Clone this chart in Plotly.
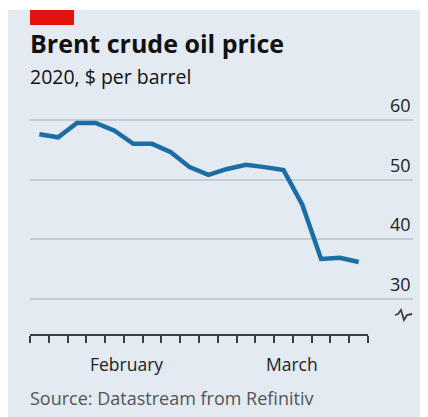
import plotly.graph_objects as go

# ---- data ----
prices = [57.6, 57.1, 59.5, 59.5, 58.2, 56.0, 56.0, 54.6, 52.1, 50.8,
          51.8, 52.5, 52.1, 51.6, 45.8, 36.7, 36.9, 36.2]
y_ticks = [30, 40, 50, 60]
month_labels = ["February", "March"]
month_pos = [4.66, 13.45]

x_idx = list(range(len(prices)))
tick_pos = [i - 0.5 for i in range(len(prices) + 1)]

# page has an 8px body margin; figure coordinates = screen - 8
OFF = 8
W, H = 420, 409
SX_L, SX_R = 30, 413      # plot area on screen
SY_T, SY_B = 100, 335
L, R = SX_L - OFF, OFF + W - SX_R
T, B = SY_T - OFF, OFF + H - SY_B
PW, PH = W - L - R, H - T - B

def px(x):          # screen x -> paper
    return (x - SX_L) / PW

def py(y):          # screen y -> paper
    return (SY_B - y) / PH

panel = "#e3eaf1"
ppu = 5.967         # pixels per $ on screen

fig = go.Figure()
fig.add_trace(go.Scatter(
    x=x_idx, y=prices, mode="lines",
    line=dict(color="#1b6ea3", width=4.5, shape="linear"),
    hoverinfo="skip", showlegend=False,
))

shapes = [
    dict(type="rect", xref="paper", yref="paper", x0=px(0), x1=px(440), y0=py(OFF), y1=py(10),
         fillcolor="white", line_width=0, layer="below"),
    # red tag
    dict(type="rect", xref="paper", yref="paper", x0=px(30), x1=px(74), y0=py(10), y1=py(25),
         fillcolor="#e3120b", line_width=0),
    # x axis line
    dict(type="line", xref="x", yref="paper", x0=tick_pos[0], x1=tick_pos[-1], y0=0, y1=0,
         line=dict(color="#3d3d3d", width=2)),
]
sq = [(395, 315), (398, 314), (401, 310), (404, 320), (407, 315), (412, 314)]
path = "M " + " L ".join(f"{px(a):.5f},{py(b):.5f}" for a, b in sq)
shapes.append(dict(type="path", xref="paper", yref="paper", path=path,
                   line=dict(color="#3d3d3d", width=1.8)))

annotations = [
    dict(text="<b>Brent crude oil price</b>", xref="paper", yref="paper",
         x=px(28), y=py(43), xanchor="left", yanchor="middle", showarrow=False,
         font=dict(family="Open Sans", size=25, color="#111111")),
    dict(text="2020, $ per barrel", xref="paper", yref="paper",
         x=px(28), y=py(76), xanchor="left", yanchor="middle", showarrow=False,
         font=dict(family="Open Sans", size=19.5, color="#111111")),
    dict(text="Source: Datastream from Refinitiv", xref="paper", yref="paper",
         x=px(28), y=py(398), xanchor="left", yanchor="middle", showarrow=False,
         font=dict(family="Open Sans", size=18, color="#555555")),
]
for lab, pos in zip(month_labels, month_pos):
    annotations.append(dict(text=lab, xref="x", yref="paper", x=pos, y=py(364),
                            xanchor="center", yanchor="middle", showarrow=False,
                            font=dict(family="Open Sans", size=17.5, color="#222222")))
for v in y_ticks:
    annotations.append(dict(text=str(v), xref="paper", yref="y", x=1.0, y=v,
                            xanchor="right", yanchor="bottom", yshift=1, showarrow=False,
                            font=dict(family="Open Sans", size=18, color="#222222")))

ymax = 60 + (120 - SY_T) / ppu
ymin = 30 - (SY_B - 299) / ppu
xmax = -0.5 + PW / 18.78

fig.update_layout(
    width=W, height=H,
    margin=dict(l=L, r=R, t=T, b=B, pad=0),
    paper_bgcolor=panel, plot_bgcolor="rgba(0,0,0,0)",
    shapes=shapes, annotations=annotations,
    xaxis=dict(range=[-0.5, xmax], showgrid=False, zeroline=False, showline=False,
               tickvals=tick_pos, ticks="outside", ticklen=7, tickwidth=2,
               tickcolor="#3d3d3d", showticklabels=False),
    yaxis=dict(range=[ymin, ymax], tickvals=y_ticks, showticklabels=False,
               showgrid=True, gridcolor="#c5ccd3", gridwidth=1.5, zeroline=False,
               showline=False, ticks=""),
)

fig.write_html("out.html")
